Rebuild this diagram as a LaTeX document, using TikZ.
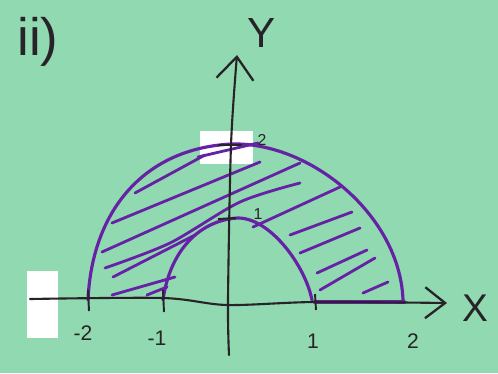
\documentclass[tikz,border=0pt]{standalone}
\usepackage{fontspec}
\setmainfont{Liberation Sans}
\usetikzlibrary{arrows.meta}
\definecolor{paperGreen}{RGB}{145, 217, 176}
\definecolor{penPurple} {RGB}{102,  34, 165}
\definecolor{penBlack}  {RGB}{ 40,  35,  40}
\tikzset{
  axis/.style   = {draw=penBlack, line width=1.2pt, line cap=round},
  curve/.style  = {draw=penPurple, line width=1.8pt, line cap=round},
  hatch/.style  = {draw=penPurple, line width=1.6pt, line cap=round},
  tick/.style   = {draw=penBlack, line width=1.1pt},
  lbl/.style    = {text=penBlack, inner sep=0pt, font=\fontsize{12}{12}\selectfont},
  patch/.style  = {fill=white, draw=none},
}

\begin{document}
\begin{tikzpicture}[x=0.02cm, y=-0.02cm]

% ---- Paper ------------------------------------------------------------------
\fill[paperGreen] (0,0) rectangle (498,373);
\useasboundingbox (0,0) rectangle (498,373);

% ---- White-out patches ------------------------------------------------------
\fill[patch] (27,271) rectangle (58,338);
\fill[patch] (200,131) rectangle (253,164);

% ---- Hatching between the two arcs ------------------------------------------
\draw[hatch] (135,193) -- (205,155);
\draw[hatch] (198,157) -- (258,143);
\draw[hatch] (112,223) -- (260,162);
\draw[hatch] (102,252) -- (300,163);
\draw[hatch] plot[smooth] coordinates {(105,268) (170,243) (240,202) (300,183)};
\draw[hatch] (113,277) -- (195,235);
\draw[hatch] (112,295) -- (175,277);
\draw[hatch] (147,295) -- (167,287);
\draw[hatch] (253,227) -- (340,187);
\draw[hatch] (290,235) -- (352,212);
\draw[hatch] (300,253) -- (360,228);
\draw[hatch] (317,273) -- (367,250);
\draw[hatch] (320,290) -- (375,258);
\draw[hatch] (363,293) -- (388,282);

% ---- Arcs -------------------------------------------------------------------
\coordinate (otop) at (232,144);
\coordinate (itop) at (238,218);
\draw[curve] (88,300) .. controls (92,210) and (145,148) .. (otop)
             .. controls (310,142) and (400,215) .. (403,300);
\draw[curve] (163,300) .. controls (170,250) and (200,220) .. (itop)
             .. controls (270,218) and (305,265) .. (312,300);
\draw[curve, line width=2.4pt] (315,302) -- (404,302);

% ---- Axes -------------------------------------------------------------------
\coordinate (xstart) at (30,299);
\coordinate (xend)   at (447,303);
\coordinate (ystart) at (229,355);
\coordinate (yend)   at (237,55);
\draw[axis, -{Straight Barb[length=0.4cm, width=0.62cm, line width=1.3pt]}]
  plot[smooth] coordinates {(xstart) (163,298) (227,305) (315,302) (xend)};
\draw[axis, -{Straight Barb[length=0.45cm, width=0.74cm, line width=1.3pt]}]
  plot[smooth] coordinates {(ystart) (228,300) (231,145) (yend)};

% ---- Ticks ------------------------------------------------------------------
\draw[tick] (88,290) -- (89,311);
\draw[tick] (163,290) -- (164,312);
\draw[tick] (315,294) -- (316,310);
\draw[tick] (218,145) -- (242,145);
\draw[tick] (218,219) -- (236,218);

% ---- Labels -----------------------------------------------------------------
\node[lbl] (mtwo) at (83,333)  {-2};
\node[lbl] (mone) at (157,338) {-1};
\node[lbl] (pone) at (313,341) {1};
\node[lbl] (ptwo) at (413,341) {2};
\node[lbl, font=\fontsize{9}{9}\selectfont] (ytwo) at (262,140) {2};
\node[lbl, font=\fontsize{9}{9}\selectfont] (yone) at (258,214) {1};
\node[lbl, font=\fontsize{24}{24}\selectfont] (ylab) at (262,33)  {Y};
\node[lbl, font=\fontsize{22}{22}\selectfont] (xlab) at (475,308) {X};
\node[lbl, font=\fontsize{30}{30}\selectfont] (part) at (38,42)   {ii)};

\end{tikzpicture}
\end{document}
